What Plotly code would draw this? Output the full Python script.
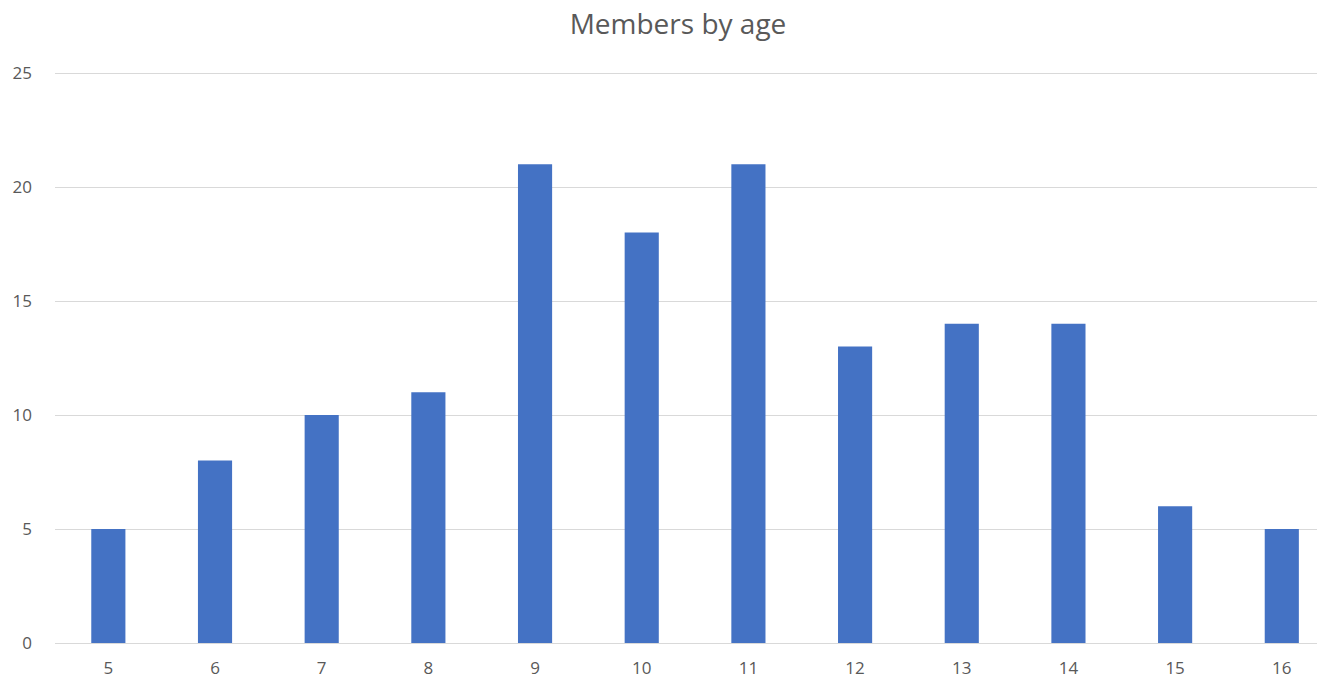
import plotly.graph_objects as go

ages = ["5", "6", "7", "8", "9", "10", "11", "12", "13", "14", "15", "16"]
members = [5, 8, 10, 11, 21, 18, 21, 13, 14, 14, 6, 5]
y_ticks = [0, 5, 10, 15, 20, 25]

fig = go.Figure(go.Bar(
    x=ages, y=members,
    marker=dict(color="#4472C4", line=dict(width=0)),
))

fig.update_layout(
    width=1317, height=680,
    margin=dict(l=55, r=0, t=68, b=37),
    paper_bgcolor="white", plot_bgcolor="white",
    bargap=0.68,
    showlegend=False,
    font=dict(family="Open Sans, sans-serif", color="#595959", size=17),
    title=dict(text="Members by age", x=678 / 1317, xanchor="center",
               y=1 - 24 / 680, yanchor="middle", yref="container",
               font=dict(size=28, color="#595959")),
    xaxis=dict(type="category", range=[-0.5, 11.33], showgrid=False,
               showline=True, linecolor="#D9D9D9", linewidth=1,
               ticks="", ticklabelstandoff=10, tickfont=dict(size=17)),
    yaxis=dict(range=[0, 25.22], tickvals=y_ticks, showgrid=True,
               gridcolor="#D9D9D9", gridwidth=1, zeroline=False,
               showline=False, ticks="", ticklabelstandoff=22,
               tickfont=dict(size=17)),
)

fig.write_html(
    "out.html",
    config={"displayModeBar": False},
    post_script="document.body.style.margin='0';document.body.style.overflow='hidden';",
)
